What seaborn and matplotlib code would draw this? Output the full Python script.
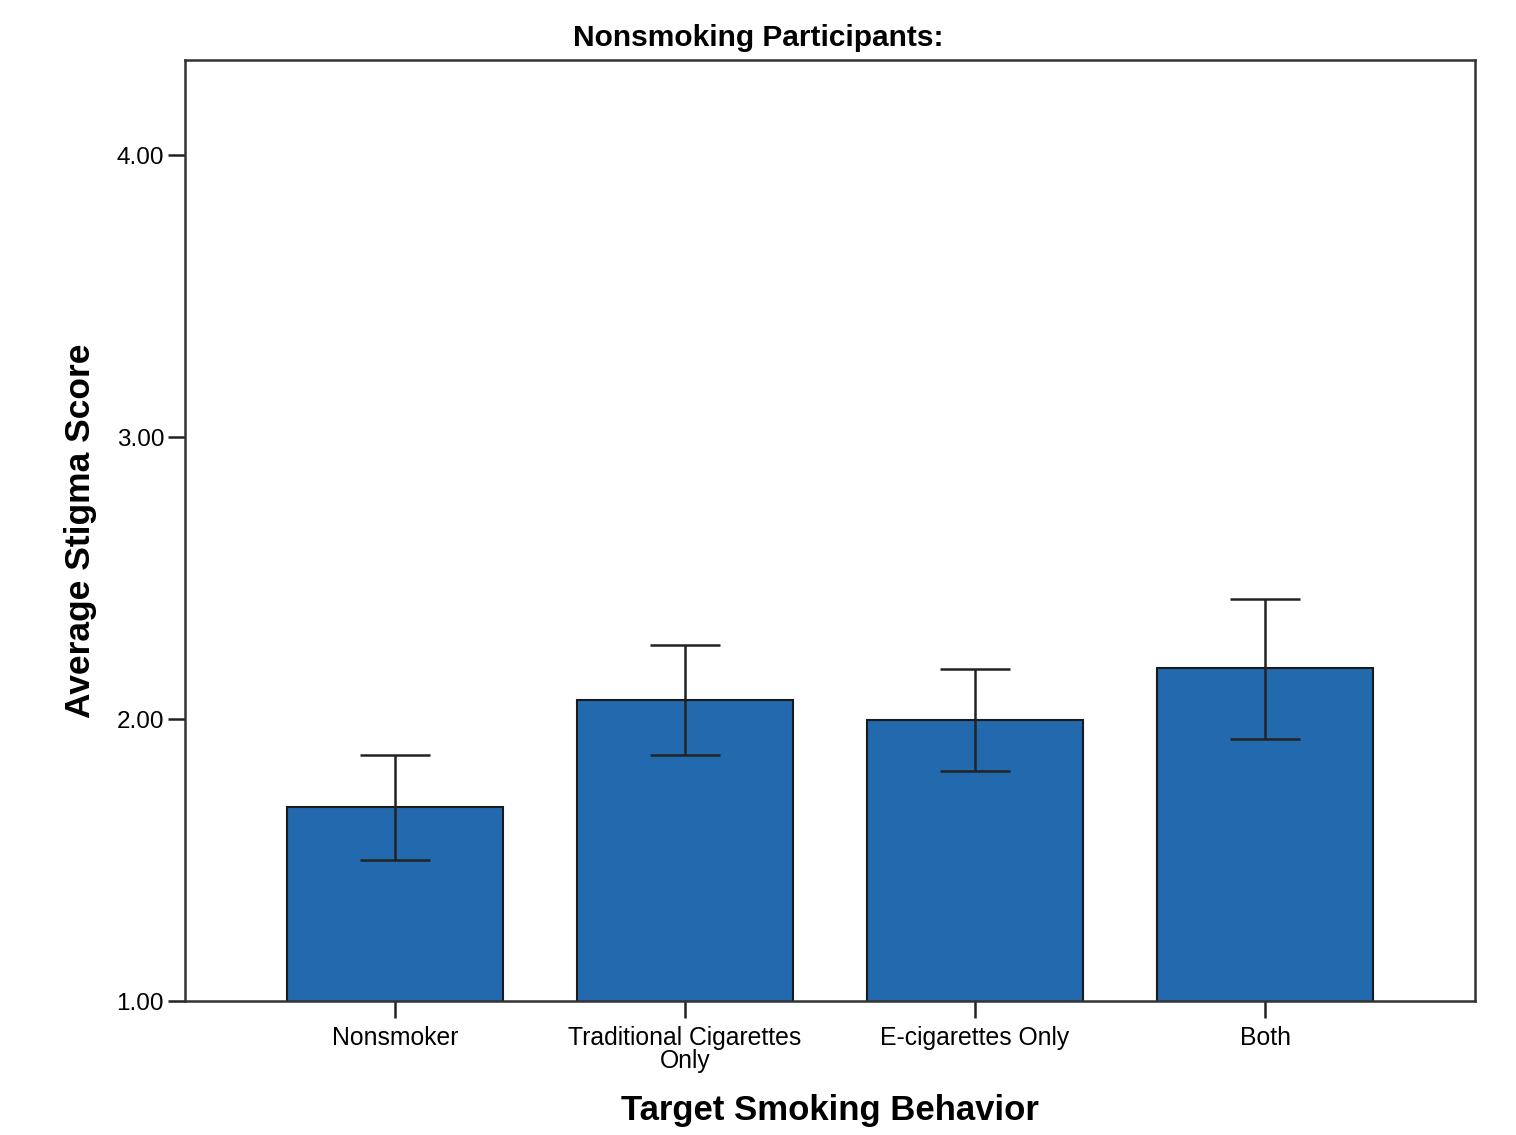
import numpy as np
import pandas as pd
import matplotlib
matplotlib.use("Agg")
import matplotlib.pyplot as plt
import seaborn as sns

categories = ["Nonsmoker", "Traditional Cigarettes\nOnly", "E-cigarettes Only", "Both"]
mean_scores = [1.688, 2.067, 1.997, 2.181]
ci_lower = [1.500, 1.872, 1.816, 1.929]
ci_upper = [1.872, 2.262, 2.177, 2.426]
y_ticks = [1.0, 2.0, 3.0, 4.0]

sns.set_theme(style="white")
plt.rcParams["font.family"] = ["Liberation Sans", "DejaVu Sans"]
plt.rcParams["text.color"] = "black"
plt.rcParams["axes.labelcolor"] = "black"
plt.rcParams["xtick.color"] = "black"
plt.rcParams["ytick.color"] = "black"

df = pd.DataFrame({"behavior": categories, "score": mean_scores})

fig = plt.figure(figsize=(15.16, 11.35), dpi=100)
ax = fig.add_axes([0.122, 0.118, 0.851, 0.829])

sns.barplot(data=df, x="behavior", y="score", color="#2369ad", saturation=1,
            width=0.745, edgecolor="#1a1a1a", linewidth=1.5, errorbar=None, ax=ax)

means = np.array(mean_scores)
yerr = np.vstack([means - np.array(ci_lower), np.array(ci_upper) - means])
ax.errorbar(np.arange(len(categories)), means, yerr=yerr, fmt="none",
            ecolor="#222222", elinewidth=1.8, capsize=25, capthick=1.8, zorder=5)

ax.set_ylim(1.0, 4.337)
ax.set_xlim(-0.724, 3.724)
ax.set_yticks(y_ticks)
ax.set_yticklabels([f"{v:.2f}" for v in y_ticks], fontsize=17.5)
ax.set_xticks(range(len(categories)))
ax.set_xticklabels(categories, fontsize=17.8, linespacing=0.95)
ax.tick_params(axis="both", which="major", direction="out", length=12,
               width=1.8, color="#222222", left=True, bottom=True)
ax.tick_params(axis="x", pad=6)
ax.tick_params(axis="y", pad=3)

for s in ax.spines.values():
    s.set_color("#333333")
    s.set_linewidth(1.8)

fig.suptitle("Nonsmoking Participants:", x=0.5, y=0.9665, fontsize=21.5,
             fontweight="bold", va="center")
ax.set_xlabel("Target Smoking Behavior", fontsize=25, fontweight="bold", labelpad=15)
ax.set_ylabel("Average Stigma Score", fontsize=25.5, fontweight="bold", labelpad=14)

fig.savefig("out.png", dpi=100)
plt.close(fig)
